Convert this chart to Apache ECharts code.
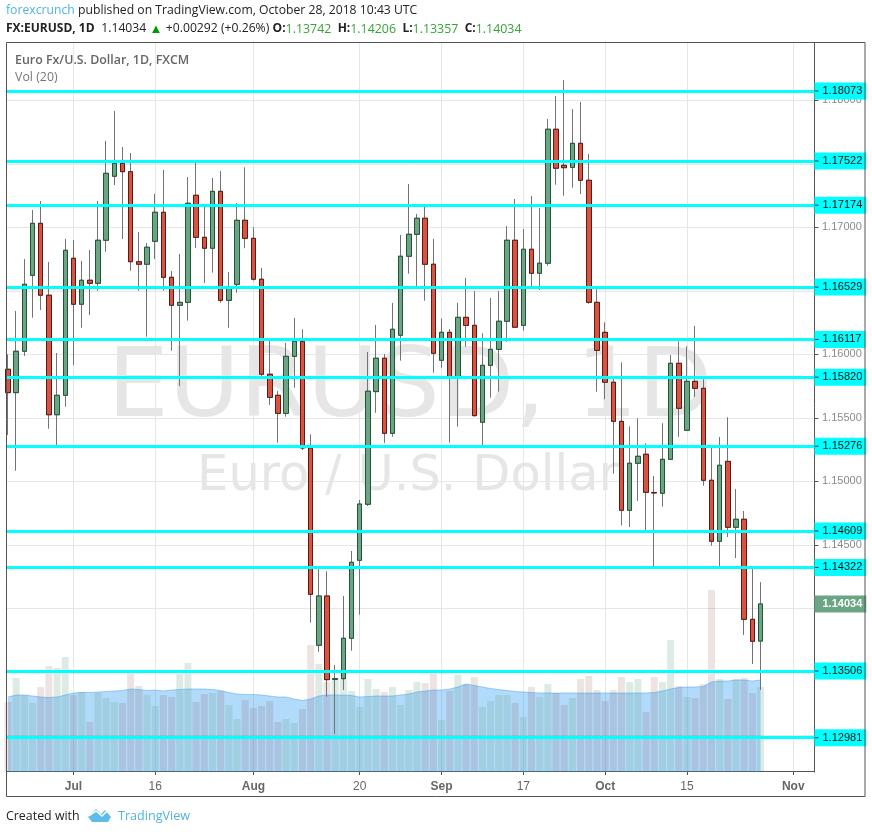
<!DOCTYPE html>
<html><head><meta charset="utf-8">
<style>html,body{margin:0;padding:0;background:#fff}#c{width:872px;height:834px}</style>
<script src="https://cdn.jsdelivr.net/npm/echarts@6/dist/echarts.min.js"></script>
</head><body><div id="c"></div>
<script>
const openPrice=[
1.15882,1.15698,1.16024,1.16622,1.17031,1.16465,1.15524,1.15677,1.16756,1.16394,
1.16583,1.16559,1.16898,1.17402,1.17504,1.17438,1.16729,1.16709,1.16890,1.17118,
1.16606,1.16386,1.16409,1.17252,1.16921,1.16835,1.17283,1.16425,1.16551,1.17055,
1.16913,1.16591,1.15843,1.15677,1.15535,1.15984,1.16102,1.15262,1.13709,1.14097,
1.13440,1.13446,1.13764,1.14378,1.14819,1.15706,1.15969,1.15378,1.16150,1.16772,
1.16945,1.17071,1.16709,1.15953,1.16173,1.15813,1.16291,1.16228,1.15465,1.15913,
1.16039,1.16260,1.16898,1.16228,1.16827,1.16638,1.16717,1.17772,1.17488,1.17472,
1.17661,1.17370,1.16409,1.16173,1.15780,1.15472,1.14772,1.15142,1.15213,1.14912,
1.14906,1.15173,1.15929,1.15402,1.15787,1.15732,1.15008,1.14528,1.15157,1.14638,
1.14701,1.13913,1.13742];
const closePrice=[
1.15698,1.16024,1.16551,1.17031,1.16465,1.15524,1.15677,1.16819,1.16394,1.16583,
1.16559,1.16898,1.17425,1.17504,1.17438,1.16729,1.16709,1.16843,1.17118,1.16606,
1.16386,1.16409,1.17189,1.16921,1.16835,1.17283,1.16425,1.16520,1.17055,1.16913,
1.16591,1.15843,1.15661,1.15535,1.15984,1.16102,1.15262,1.14110,1.14097,1.13438,
1.13446,1.13764,1.14362,1.14821,1.15709,1.15969,1.15378,1.16197,1.16772,1.16945,
1.17071,1.16709,1.16008,1.16173,1.15813,1.16291,1.16228,1.15517,1.15913,1.16039,
1.16260,1.16898,1.16213,1.16827,1.16638,1.16717,1.17772,1.17465,1.17469,1.17661,
1.17370,1.16409,1.16031,1.15780,1.15472,1.14772,1.15142,1.15197,1.14913,1.14908,
1.15173,1.15929,1.15575,1.15787,1.15732,1.15008,1.14528,1.15126,1.14638,1.14701,
1.13913,1.13740,1.14034];
const highPrice=[
1.16000,1.16341,1.16750,1.17136,1.17207,1.16727,1.16010,1.16908,1.16900,1.16735,
1.16821,1.17207,1.17680,1.17916,1.17632,1.17585,1.16963,1.16876,1.17262,1.17451,
1.16656,1.16790,1.17396,1.17506,1.17162,1.17388,1.17443,1.16648,1.17191,1.17472,
1.17000,1.16680,1.16105,1.15711,1.16089,1.16286,1.16197,1.15370,1.14307,1.14291,
1.13554,1.14097,1.14451,1.14853,1.16018,1.16231,1.16002,1.16404,1.16939,1.17341,
1.17105,1.17160,1.16908,1.16283,1.16199,1.16404,1.16601,1.16498,1.16165,1.16443,
1.16498,1.17010,1.17223,1.16987,1.17246,1.17152,1.17853,1.18034,1.18160,1.17931,
1.17987,1.17577,1.16512,1.16252,1.15806,1.15937,1.15433,1.15496,1.15299,1.15042,
1.15457,1.15994,1.16102,1.16063,1.16223,1.15803,1.15262,1.15349,1.15504,1.14939,
1.14766,1.14309,1.14206];
const lowPrice=[
1.15365,1.15083,1.15987,1.16288,1.16349,1.15414,1.15286,1.15587,1.15916,1.16209,
1.16309,1.16501,1.16808,1.17333,1.16908,1.16658,1.16501,1.16139,1.16750,1.16501,
1.16028,1.15750,1.16265,1.16837,1.16561,1.16643,1.16406,1.16209,1.16485,1.16835,
1.16580,1.15829,1.15601,1.15304,1.15509,1.15737,1.15246,1.13887,1.13658,1.13304,
1.13010,1.13357,1.13666,1.13950,1.14806,1.15540,1.15302,1.15351,1.15950,1.16635,
1.16538,1.16422,1.15855,1.15894,1.15304,1.15430,1.16060,1.15509,1.15286,1.15658,
1.15706,1.16099,1.16207,1.16186,1.16532,1.16506,1.16698,1.17335,1.17249,1.17312,
1.17262,1.16398,1.15706,1.15646,1.15060,1.14654,1.14640,1.14845,1.14617,1.14333,
1.14800,1.15172,1.15349,1.15396,1.15664,1.14965,1.14493,1.14333,1.14561,1.14396,
1.13790,1.13561,1.13357];
const volume=[
69,93,76,68,84,105,103,114,76,79,
49,78,73,69,68,98,85,76,65,76,
74,97,108,69,77,78,80,66,52,71,
63,65,70,49,52,48,62,126,107,89,
93,92,80,64,92,82,79,84,66,81,
89,88,98,51,80,96,87,94,64,70,
76,76,68,54,84,74,87,78,66,73,
92,95,81,70,81,94,89,92,59,94,
89,131,85,74,73,87,181,92,72,92,
93,78,84];
const volumeMA=[
74,76,76,75,74,73.5,74,76,78,78.5,
78.5,79,79.5,80,80.5,82,81.5,80.5,81,80,
81,81.5,82,82,82,81.5,80.5,78.5,77,76.5,
76.5,76,75,74,74,72,70.5,72,75,76,
76,76,75.5,74,74.5,75,75,75,76,77,
79,80,81,81,82,84,87,85.5,84,82.5,
81.5,80.5,79.5,79,78.5,78,78,78,78,78,
78,78,78,78,78,78,78,78,78,78.5,
80,82,83.5,84,84,84.5,89,90,90,91,
91,90,91];
const levels=[1.18073,1.17522,1.17174,1.16529,1.16117,1.15820,1.15276,1.14609,1.14322,1.13506,1.12981];
const lastPrice=1.14034;
const priceTicks=[1.18,1.175,1.17,1.165,1.16,1.155,1.15,1.145,1.14,1.135,1.13];
const dateTickIndex=[8,18,30,43,53,63,73,83,96];
const dateTickLabels=['Jul','16','Aug','20','Sep','17','Oct','15','Nov'];
const monthLabels=['Jul','Aug','Sep','Oct','Nov'];

const SANS='"Open Sans","Noto Sans",sans-serif';
const AXF='"Liberation Sans",Arial,sans-serif';
const chart=echarts.init(document.getElementById('c'),null,{renderer:'canvas'});
const n=openPrice.length, idx=[...Array(n).keys()];
const wicks=idx.map(i=>[i,openPrice[i],closePrice[i],lowPrice[i],highPrice[i]]);
const bodies=idx.map(i=>[i,openPrice[i],closePrice[i],Math.min(openPrice[i],closePrice[i]),Math.max(openPrice[i],closePrice[i])]);
const UP='#6ba583',DOWN='#d75442';

const levelLines=levels.map(v=>({yAxis:v,
  lineStyle:{color:'#00ffff',width:3,type:'solid',opacity:1},
  label:{show:true,position:'end',distance:0,formatter:'{t|}{v|'+v.toFixed(5)+'}',backgroundColor:'#00ffff',padding:[3,4,3,0],
    rich:{t:{width:4,height:1,backgroundColor:'#333'},v:{color:'#111',fontFamily:AXF,fontSize:11,padding:[0,0,0,4]}}}}));
levelLines.push({yAxis:lastPrice,
  lineStyle:{color:'rgba(0,0,0,0)',width:1,opacity:1},
  label:{show:true,position:'end',distance:0,formatter:'{v|'+lastPrice.toFixed(5)+'}',backgroundColor:UP,padding:[3,4,3,8],
    rich:{v:{color:'#fff',fontFamily:AXF,fontSize:11,fontWeight:'bold'}}}});

chart.setOption({
  animation:false,
  backgroundColor:'#fff',
  grid:{left:6.5,top:43,width:808,height:729,containLabel:false,show:false},
  xAxis:{type:'value',min:-0.183,max:98.594,
    axisLine:{show:true,lineStyle:{color:'#555',width:1}},
    axisTick:{show:true,length:4,customValues:dateTickIndex,lineStyle:{color:'#555'}},
    splitLine:{show:true,lineStyle:{color:'#e6e6e6',width:1}},
    axisLabel:{customValues:dateTickIndex,margin:9,fontFamily:AXF,fontSize:12,color:'#666',
      formatter:v=>{const t=dateTickLabels[dateTickIndex.indexOf(v)];return monthLabels.includes(t)?'{m|'+t+'}':t;},
      rich:{m:{fontFamily:AXF,fontSize:12,fontWeight:'bold',color:'#666'}}}},
  yAxis:[
    {type:'value',position:'right',min:1.12711,max:1.18451,scale:true,
     axisLine:{show:true,onZero:false,lineStyle:{color:'#555',width:1}},
     axisTick:{show:true,length:4,customValues:priceTicks,lineStyle:{color:'#555'}},
     splitLine:{show:true,lineStyle:{color:'#e6e6e6',width:1}},
     axisLabel:{customValues:priceTicks,margin:7.5,fontFamily:AXF,fontSize:11,color:'#8a8a8a',formatter:v=>v.toFixed(5)}},
    {type:'value',min:-1,max:728,show:false,splitLine:{show:false}}
  ],
  series:[
    {name:'Vol',type:'bar',yAxisIndex:1,barWidth:7,z:1,
     data:idx.map(i=>({value:[i,volume[i]],itemStyle:{color:closePrice[i]>=openPrice[i]?'rgba(107,165,131,0.22)':'rgba(130,60,60,0.14)'}}))},
    {name:'Vol MA',type:'line',yAxisIndex:1,z:1,symbol:'none',smooth:false,
     data:idx.map(i=>[i,volumeMA[i]]),
     lineStyle:{color:'rgba(33,150,243,0.4)',width:1},
     areaStyle:{color:'rgba(33,150,243,0.35)',opacity:1,origin:'start'}},
    {name:'Wicks',type:'candlestick',z:3,barWidth:5,data:wicks,
     itemStyle:{color:UP,color0:DOWN,borderColor:'#737375',borderColor0:'#737375',borderWidth:1}},
    {name:'Bodies',type:'candlestick',z:4,barWidth:5,data:bodies,
     itemStyle:{color:UP,color0:DOWN,borderColor:'#225437',borderColor0:'#5b1a13',borderWidth:1}},
    {name:'Levels',type:'line',z:6,data:[],symbol:'none',
     markLine:{symbol:['none','none'],silent:true,animation:false,precision:5,z:6,data:levelLines}}
  ],
  graphic:[
    {type:'text',z:-10,silent:true,style:{x:410,y:391,text:'EURUSD, 1D',font:'97px "DejaVu Sans"',fill:'#e6e6e6',align:'center',verticalAlign:'middle'}},
    {type:'text',z:-10,silent:true,style:{x:408,y:477,text:'Euro / U.S. Dollar',font:'49.5px "DejaVu Sans"',fill:'#e6e6e6',align:'center',verticalAlign:'middle'}},
    {type:'rect',z:20,silent:true,shape:{x:6.5,y:42.5,width:858.5,height:754},style:{fill:'none',stroke:'#555',lineWidth:1}},
    {type:'text',z:21,style:{x:6,y:11,verticalAlign:'middle',
      text:'{a|forexcrunch} {b|published on TradingView.com, October 28, 2018 10:43 UTC}',
      rich:{a:{fontFamily:SANS,fontSize:12.2,fill:'#4fb3e4'},b:{fontFamily:SANS,fontSize:12.2,fill:'#222'}}}},
    {type:'text',z:21,style:{x:6,y:29,verticalAlign:'middle',
      text:'{k|FX:EURUSD, 1D}  {b|1.14034} {u|▲} {b|+0.00292 (+0.26%)} {k|O:}{g|1.13742} {k|H:}{g|1.14206} {k|L:}{g|1.13357} {k|C:}{g|1.14034}',
      rich:{k:{fontFamily:SANS,fontSize:12,fontWeight:'bold',fill:'#222'},b:{fontFamily:SANS,fontSize:12.2,fill:'#222'},
            u:{fontFamily:SANS,fontSize:13,fill:'#009900'},g:{fontFamily:SANS,fontSize:12.4,fill:'#37a437',padding:[0,3,0,0]}}}},
    {type:'text',z:21,style:{x:15,y:60,verticalAlign:'middle',text:'Euro Fx/U.S. Dollar, 1D, FXCM',font:'600 12.4px '+SANS,fill:'#666'}},
    {type:'text',z:21,style:{x:15,y:77,verticalAlign:'middle',text:'Vol (20)',font:'12.4px '+SANS,fill:'#777'}},
    {type:'text',z:21,style:{x:6,y:816,verticalAlign:'middle',text:'Created with',font:'12.4px '+SANS,fill:'#222'}},
    {type:'polygon',z:21,silent:true,shape:{points:[[88,817],[96,809],[101,814],[105,810],[111,817],[108,822],[92,822]]},style:{fill:'#5ebde8'}},
    {type:'polyline',z:22,silent:true,shape:{points:[[89,816],[96,811],[102,816],[107,811]]},style:{stroke:'#fff',lineWidth:1.5,fill:'none'}},
    {type:'text',z:21,style:{x:118,y:816,verticalAlign:'middle',text:'TradingView',font:'12.6px '+SANS,fill:'#4fb3e4'}}
  ]
});
</script></body></html>
